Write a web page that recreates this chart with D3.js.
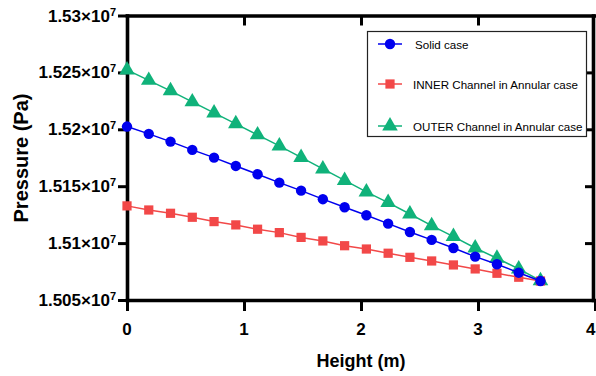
<!DOCTYPE html>
<html><head><meta charset="utf-8">
<script src="https://cdn.jsdelivr.net/npm/d3@7"></script>
<style>body{margin:0;background:#fff}svg{display:block}</style>
</head><body>
<svg id="c" width="596" height="376"></svg>
<script>
const heights = [0, 0.186, 0.372, 0.558, 0.744, 0.930, 1.116, 1.302, 1.488, 1.674, 1.860, 2.046, 2.232, 2.418, 2.604, 2.790, 2.976, 3.162, 3.348, 3.534];
const solidCase = [15202400, 15196000, 15189200, 15181900, 15175100, 15167800, 15160500, 15153100, 15146100, 15138600, 15131500, 15124500, 15117100, 15109800, 15102800, 15095700, 15088100, 15081400, 15074000, 15066700];
const innerChannel = [15132700, 15129100, 15126200, 15122700, 15118900, 15116000, 15112200, 15109200, 15105000, 15101900, 15097700, 15094800, 15091100, 15087500, 15084300, 15080800, 15077300, 15073500, 15070000, 15066700];
const outerChannel = [15252200, 15243000, 15233800, 15224100, 15214400, 15204800, 15195100, 15185400, 15175300, 15165200, 15155100, 15145000, 15135600, 15125600, 15115300, 15105700, 15095700, 15086700, 15077300, 15067000];
const seriesNames = ["Solid case", "INNER Channel in Annular case", "OUTER Channel in Annular case"];
const seriesColors = ["#0000ee", "#f24848", "#10b27a"];
const yTickValues = [15050000, 15100000, 15150000, 15200000, 15250000, 15300000];
const yTickLabels = ["1.505", "1.51", "1.515", "1.52", "1.525", "1.53"];
const xTickValues = [0, 1, 2, 3, 4];
const xTickLabels = ["0", "1", "2", "3", "4"];

const svg = d3.select("#c");
const FONT = "'Liberation Sans', Arial, Helvetica, sans-serif";
const x = d3.scaleLinear().domain([0, 4]).range([127, 595]);
const y = d3.scaleLinear().domain([15050000, 15300000]).range([300, 15.5]);

// frame (top & right) with inward ticks
const topAx = svg.append("g").attr("transform", `translate(0,${y(15300000)})`)
  .call(d3.axisBottom(x).tickValues(xTickValues.slice(1, 4)).tickSize(10).tickSizeOuter(0).tickFormat(""));
const rightAx = svg.append("g").attr("transform", `translate(593,0)`)
  .call(d3.axisLeft(y).tickValues(yTickValues.slice(1, 5)).tickSize(8).tickSizeOuter(0).tickFormat(""));
// main axes
const leftAx = svg.append("g").attr("transform", `translate(${x(0)},0)`)
  .call(d3.axisLeft(y).tickValues(yTickValues).tickSize(9).tickSizeOuter(0).tickFormat(""));
const botAx = svg.append("g").attr("transform", `translate(0,${y(15050000)})`)
  .call(d3.axisBottom(x).tickValues(xTickValues).tickSize(11).tickSizeOuter(0).tickFormat(""));
[topAx, rightAx, leftAx, botAx].forEach(g => {
  g.select(".domain").attr("stroke", "#000").attr("stroke-width", 3.6).attr("stroke-linecap", "square");
  g.selectAll(".tick line").attr("stroke", "#000").attr("stroke-width", 3);
});

// y tick labels
yTickValues.forEach((v, i) => {
  const t = svg.append("text").attr("x", 116).attr("y", y(v) + 6)
    .attr("text-anchor", "end").attr("font-family", FONT).attr("font-weight", "bold")
    .attr("font-size", 17).attr("fill", "#000");
  t.append("tspan").text(yTickLabels[i] + "×10");
  t.append("tspan").attr("font-size", 11).attr("dy", -6).text("7");
});
// x tick labels (last one kept inside the picture edge)
xTickValues.forEach((v, i) => {
  const last = i === xTickValues.length - 1;
  svg.append("text").attr("x", last ? 595.5 : x(v)).attr("y", 335)
    .attr("text-anchor", last ? "end" : "middle").attr("font-family", FONT).attr("font-weight", "bold")
    .attr("font-size", 17).attr("fill", "#000").text(xTickLabels[i]);
});
// axis titles
svg.append("text").attr("x", 361).attr("y", 367).attr("text-anchor", "middle")
  .attr("font-family", FONT).attr("font-weight", "bold").attr("font-size", 18).text("Height (m)");
svg.append("text").attr("transform", "translate(28,158) rotate(-90)").attr("text-anchor", "middle")
  .attr("font-family", FONT).attr("font-weight", "bold").attr("font-size", 20).text("Pressure (Pa)");

// series
const allSeries = [solidCase, innerChannel, outerChannel];
const shapes = [d3.symbolCircle, d3.symbolSquare, d3.symbolTriangle];
const sizes = [85, 85, 105];
const drawOrder = [2, 1, 0];
const line = d3.line().x((d, i) => x(heights[i])).y(d => y(d));
drawOrder.forEach(k => {
  const g = svg.append("g");
  g.append("path").datum(allSeries[k]).attr("d", line).attr("fill", "none")
    .attr("stroke", seriesColors[k]).attr("stroke-width", 1.5);
  g.selectAll("path.m").data(allSeries[k]).join("path").attr("class", "m")
    .attr("transform", (d, i) => `translate(${x(heights[i])},${y(d)})`)
    .attr("d", d3.symbol().type(shapes[k]).size(sizes[k]))
    .attr("fill", seriesColors[k]);
});

// legend
const lg = svg.append("g");
lg.append("rect").attr("x", 367.5).attr("y", 31.5).attr("width", 219).attr("height", 105)
  .attr("fill", "#fff").attr("stroke", "#222").attr("stroke-width", 1.2);
const legY = [44, 84, 126];
seriesNames.forEach((name, k) => {
  lg.append("line").attr("x1", 378).attr("x2", 402).attr("y1", legY[k]).attr("y2", legY[k])
    .attr("stroke", seriesColors[k]).attr("stroke-width", 1.5);
  lg.append("path").attr("transform", `translate(390,${legY[k]})`)
    .attr("d", d3.symbol().type(shapes[k]).size(sizes[k])).attr("fill", seriesColors[k]);
  lg.append("text").attr("x", k === 0 ? 415 : 413).attr("y", legY[k] + 4.5)
    .attr("font-family", FONT).attr("font-size", 11.6).attr("fill", "#000").text(name);
});
</script>
</body></html>
